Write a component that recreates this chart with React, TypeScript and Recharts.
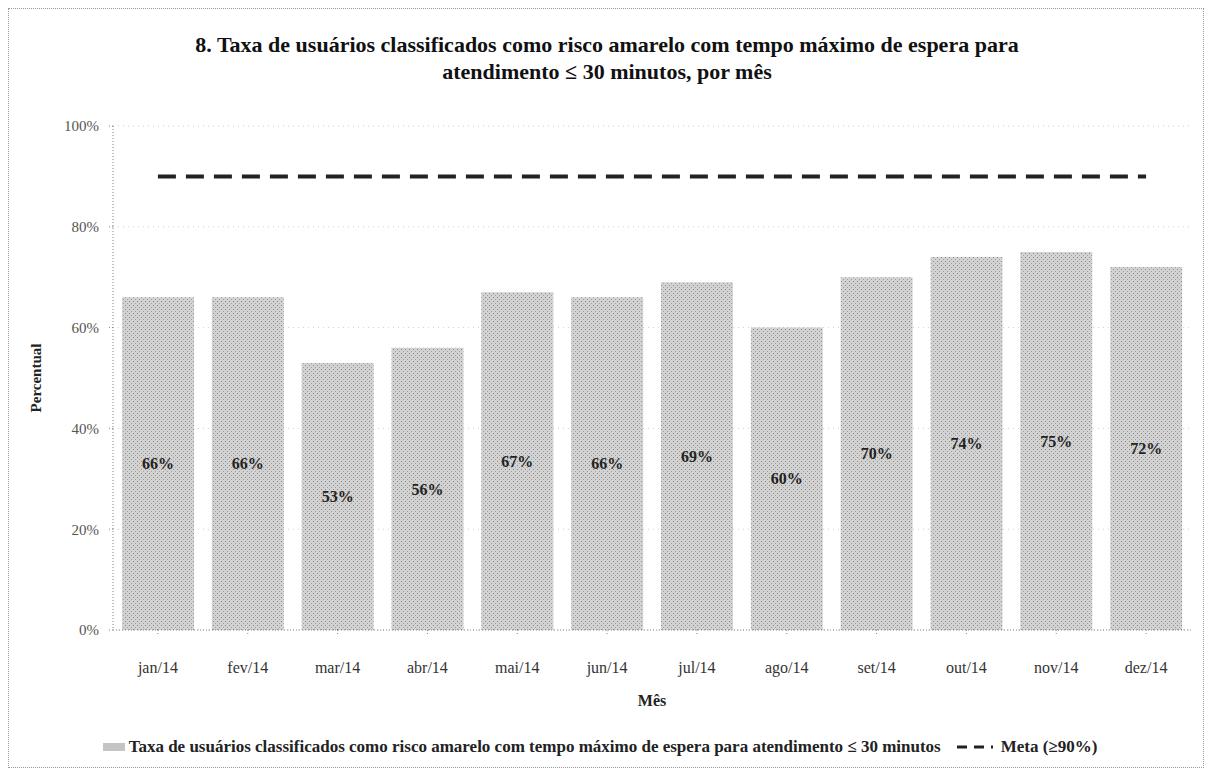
import { ComposedChart, Bar, Line, XAxis, YAxis, CartesianGrid, LabelList, Legend } from 'recharts';

const months = ['jan/14', 'fev/14', 'mar/14', 'abr/14', 'mai/14', 'jun/14', 'jul/14', 'ago/14', 'set/14', 'out/14', 'nov/14', 'dez/14'];
const taxa = [66, 66, 53, 56, 67, 66, 69, 60, 70, 74, 75, 72];
const meta = [90, 90, 90, 90, 90, 90, 90, 90, 90, 90, 90, 90];
const yTicks = [0, 20, 40, 60, 80, 100];

const data = months.map((m, i) => ({ mes: m, taxa: taxa[i], meta: meta[i] }));

const FONT = '"Liberation Serif", "Times New Roman", serif';
const BAR_NAME = 'Taxa de usuários classificados como risco amarelo com tempo máximo de espera para atendimento ≤ 30 minutos';
const META_NAME = 'Meta (≥90%)';

function LegendContent() {
  return (
    <div style={{ display: 'flex', alignItems: 'center', justifyContent: 'center', fontFamily: FONT, fontWeight: 'bold', fontSize: 17, color: '#222' }}>
      <span style={{ display: 'inline-block', width: 22, height: 8, background: 'url(#none)', backgroundColor: '#c4c4c4', marginRight: 4 }} />
      <span>{BAR_NAME}</span>
      <svg width={40} height={10} style={{ marginLeft: 14, marginRight: 6 }}>
        <line x1={2} y1={5} x2={38} y2={5} stroke="#222" strokeWidth={3} strokeDasharray="10 7" />
      </svg>
      <span>{META_NAME}</span>
    </div>
  );
}

export default function App() {
  return (
    <div style={{ position: 'relative', width: 1196, height: 760, border: '1px dotted #999', boxSizing: 'border-box', background: '#fff' }}>
      <div style={{ position: 'absolute', top: 22, left: 0, width: 1196, textAlign: 'center', fontFamily: FONT, fontWeight: 'bold', fontSize: 22, lineHeight: '27px', color: '#111' }}>
        8. Taxa de usuários classificados como risco amarelo com tempo máximo de espera para
        <br />
        atendimento ≤ 30 minutos, por mês
      </div>
      <ComposedChart
        width={1194}
        height={758}
        data={data}
        margin={{ top: 117, right: 12, bottom: 27, left: 0 }}
        barCategoryGap="10%"
      >
        <defs>
          <pattern id="stipple" width="4" height="4" patternUnits="userSpaceOnUse">
            <rect width="4" height="4" fill="#d2d2d2" />
            <rect x="0" y="0" width="1" height="1" fill="#8a8a8a" />
            <rect x="2" y="2" width="1" height="1" fill="#a0a0a0" />
          </pattern>
        </defs>
        <CartesianGrid vertical={false} stroke="#cfcfcf" strokeDasharray="1 4" />
        <XAxis
          dataKey="mes"
          height={90}
          tickMargin={28}
          tickSize={4}
          stroke="#888"
          strokeDasharray="1 2"
          tick={{ fontFamily: FONT, fontSize: 16, fill: '#333' }}
          label={{ value: 'Mês', position: 'insideTop', dy: 60, style: { fontFamily: FONT, fontWeight: 'bold', fontSize: 16, fill: '#222' } }}
        />
        <YAxis
          domain={[0, 100]}
          ticks={yTicks}
          width={104}
          tickSize={4}
          tickMargin={10}
          stroke="#888"
          strokeDasharray="1 2"
          tickFormatter={(v: number) => `${v}%`}
          tick={{ fontFamily: FONT, fontSize: 15, fill: '#555' }}
          label={{ value: 'Percentual', angle: -90, position: 'insideLeft', dx: 22, style: { fontFamily: FONT, fontWeight: 'bold', fontSize: 15, fill: '#222', textAnchor: 'middle' } }}
        />
        <Bar dataKey="taxa" name={BAR_NAME} fill="url(#stipple)" isAnimationActive={false}>
          <LabelList
            dataKey="taxa"
            position="center"
            formatter={(v: number) => `${v}%`}
            style={{ fontFamily: FONT, fontWeight: 'bold', fontSize: 16, fill: '#222' }}
          />
        </Bar>
        <Line
          dataKey="meta"
          name={META_NAME}
          stroke="#222"
          strokeWidth={4}
          strokeDasharray="18 10"
          dot={false}
          activeDot={false}
          isAnimationActive={false}
        />
        <Legend verticalAlign="bottom" content={LegendContent} wrapperStyle={{ bottom: 10 }} />
      </ComposedChart>
    </div>
  );
}
